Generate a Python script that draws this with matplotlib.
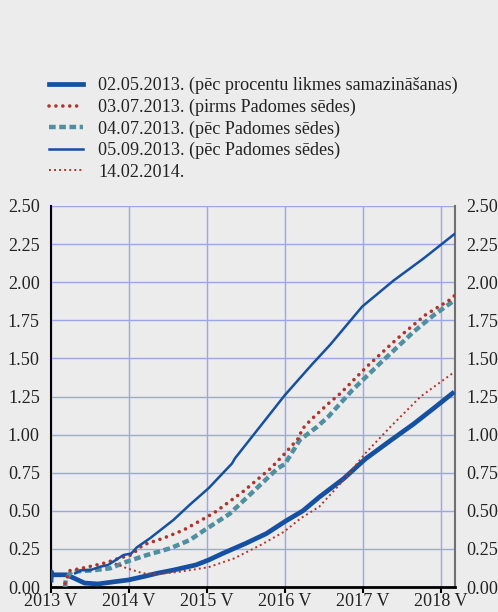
import matplotlib
matplotlib.use("Agg")
import matplotlib.pyplot as plt
from matplotlib.lines import Line2D

plt.rcParams['font.family'] = ['Liberation Serif', 'DejaVu Serif']

# x values: years after May 2013 ("2013 V")
x_tick_labels = ["2013 V", "2014 V", "2015 V", "2016 V", "2017 V", "2018 V"]
y_ticks = [0.0, 0.25, 0.5, 0.75, 1.0, 1.25, 1.5, 1.75, 2.0, 2.25, 2.5]

labels = [
    "02.05.2013. (pēc procentu likmes samazināšanas)",
    "03.07.2013. (pirms Padomes sēdes)",
    "04.07.2013. (pēc Padomes sēdes)",
    "05.09.2013. (pēc Padomes sēdes)",
    "14.02.2014.",
]

s1_x = [0.0, 0.005, 0.01, 0.03, 0.1, 0.2, 0.3, 0.43, 0.6, 0.82, 0.99, 1.2, 1.36, 1.56, 1.86,
        2.02, 2.2, 2.5, 2.76, 3.0, 3.23, 3.44, 3.75, 4.03, 4.35, 4.65, 4.9, 5.17]
s1_y = [0.03, 0.10, 0.08, 0.08, 0.08, 0.08, 0.057, 0.026, 0.02, 0.035, 0.046, 0.07, 0.09, 0.11, 0.145,
        0.177, 0.22, 0.287, 0.35, 0.43, 0.50, 0.59, 0.71, 0.84, 0.96, 1.07, 1.17, 1.28]

s2_x = [0.18, 0.24, 0.46, 0.71, 0.88, 1.03, 1.18, 1.44, 1.70, 2.0, 2.10, 2.46, 2.82, 3.0, 3.19,
        3.21, 3.33, 3.56, 3.71, 4.05, 4.44, 4.80, 5.10, 5.17]
s2_y = [0.024, 0.107, 0.13, 0.16, 0.19, 0.21, 0.276, 0.32, 0.374, 0.46, 0.49, 0.625, 0.78, 0.877, 0.986,
        1.03, 1.096, 1.205, 1.27, 1.446, 1.63, 1.785, 1.88, 1.91]

s3_x = [0.18, 0.19, 0.26, 0.55, 0.76, 0.97, 1.23, 1.53, 1.78, 1.97, 2.29, 2.59, 2.91, 3.0, 3.19,
        3.41, 3.56, 3.86, 4.22, 4.65, 4.91, 5.17]
s3_y = [0.0, 0.05, 0.10, 0.11, 0.123, 0.166, 0.21, 0.254, 0.308, 0.374, 0.48, 0.625, 0.78, 0.807, 0.965,
        1.05, 1.12, 1.29, 1.468, 1.675, 1.785, 1.88]

s4_x = [0.31, 0.39, 0.5, 0.63, 0.73, 0.93, 1.03, 1.10, 1.27, 1.57, 1.78, 2.02, 2.32, 2.36, 3.0,
        3.34, 3.58, 3.99, 4.39, 4.78, 5.17]
s4_y = [0.09, 0.11, 0.11, 0.133, 0.144, 0.21, 0.22, 0.26, 0.32, 0.44, 0.54, 0.648, 0.81, 0.845, 1.26,
        1.457, 1.59, 1.84, 2.01, 2.157, 2.315]

s5_x = [0.82, 0.97, 1.18, 1.36, 1.65, 2.02, 2.35, 2.69, 2.99, 3.20, 3.44, 3.75, 4.03, 4.35, 4.74, 5.17]
s5_y = [0.155, 0.123, 0.09, 0.085, 0.10, 0.13, 0.188, 0.276, 0.363, 0.45, 0.527, 0.70, 0.877,
        1.05, 1.25, 1.41]

BG = "#ececec"
BLUE = "#1650a3"
RED = "#b0342c"
TEAL = "#4f8fa0"
GRID = "#9aa7e6"
TXT = "#222222"
FS = 13.1

fig = plt.figure(figsize=(4.98, 6.12), dpi=100, facecolor=BG)
ax = fig.add_axes([51 / 498, 25 / 612, 404 / 498, 381 / 612], facecolor=BG)

ax.plot(s1_x, s1_y, color=BLUE, lw=3.4, solid_capstyle='butt', zorder=3)
ax.plot(s2_x, s2_y, color=RED, lw=2.6, linestyle=(0, (0.01, 1.9)), dash_capstyle='round', zorder=4)
ax.plot(s3_x, s3_y, color=TEAL, lw=3.2, linestyle=(0, (1.5, 0.8)), dash_capstyle='butt', zorder=3)
ax.plot(s4_x, s4_y, color=BLUE, lw=1.8, zorder=5)
ax.plot(s5_x, s5_y, color=RED, lw=1.4, linestyle=(0, (1, 1.6)), zorder=4)

ax.set_xlim(0, 5.18)
ax.set_ylim(0, 2.5)
ax.set_xticks(range(len(x_tick_labels)))
ax.set_xticklabels(x_tick_labels)
ax.set_yticks(y_ticks)
ax.set_yticklabels([f"{v:.2f}" for v in y_ticks])
ax.grid(True, color=GRID, lw=1.0)
ax.set_axisbelow(True)

ax.tick_params(axis='y', length=0, labelsize=FS, labelcolor=TXT, pad=8,
               left=True, right=True, labelleft=True, labelright=True)
ax.tick_params(axis='x', direction='out', length=4, width=1.5, color='black',
               labelsize=FS, labelcolor=TXT, pad=0.5)

ax.spines['top'].set_visible(False)
ax.spines['left'].set_color('black')
ax.spines['left'].set_linewidth(1.5)
ax.spines['bottom'].set_color('black')
ax.spines['bottom'].set_linewidth(2.0)
ax.spines['right'].set_color('#707070')
ax.spines['right'].set_linewidth(1.5)

handles = [
    Line2D([], [], color=BLUE, lw=3.4),
    Line2D([], [], color=RED, lw=2.6, linestyle=(0, (0.01, 1.9)), dash_capstyle='round'),
    Line2D([], [], color=TEAL, lw=3.2, linestyle=(0, (1.5, 0.8))),
    Line2D([], [], color=BLUE, lw=1.8),
    Line2D([], [], color=RED, lw=1.4, linestyle=(0, (1, 1.6))),
]
leg = fig.legend(handles, labels, loc='upper left', bbox_to_anchor=(49 / 498, 1 - 77 / 612),
                 frameon=False, fontsize=FS, handlelength=1.87, handletextpad=0.85,
                 labelspacing=0.24, borderpad=0, borderaxespad=0)
for t in leg.get_texts():
    t.set_color(TXT)

fig.savefig("out.png", dpi=100, facecolor=BG)
